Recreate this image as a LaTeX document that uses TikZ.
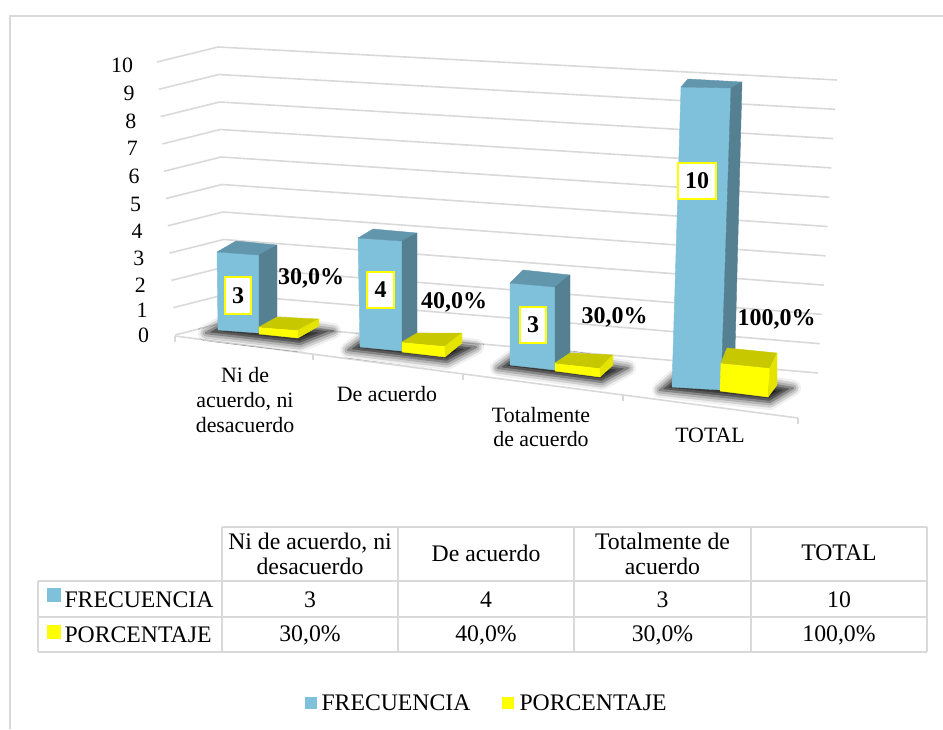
\documentclass[tikz,border=0pt]{standalone}
\usepackage{fontspec}
\setmainfont{Liberation Serif}
\usetikzlibrary{shadows.blur}

\definecolor{gridgray}{RGB}{217,217,217}
\definecolor{freqfront}{RGB}{127,192,218}
\definecolor{freqtop}{RGB}{98,150,172}
\definecolor{freqside}{RGB}{84,128,145}
\definecolor{porcfront}{RGB}{255,255,0}
\definecolor{porctop}{RGB}{200,200,0}
\definecolor{porcside}{RGB}{228,228,0}

\tikzset{every picture/.style={line width=0.75pt}}
\tikzset{
	gridline/.style={draw=gridgray, line width=1.2pt},
	tabline/.style={draw=gridgray, line width=1.5pt},
	basefont/.style={font=\fontsize{17.8}{18.8}\selectfont},
	axisfont/.style={font=\fontsize{16.4}{18.4}\selectfont},
	datalbl/.style={font=\fontsize{18}{20}\selectfont\bfseries},
	valbox/.style={draw=porcfront, line width=1.5pt, fill=white, inner xsep=5.4pt, minimum height=27.5pt, datalbl},
	legtext/.style={basefont, anchor=west, inner sep=0pt},
	face/.style={fill=#1, draw=#1, line width=0.3pt, line join=round},
	barshadow/.style={blur shadow={shadow xshift=0pt, shadow yshift=0pt, shadow blur radius=6pt, shadow opacity=95}}
}

\begin{document}
\begin{tikzpicture}[x=0.75pt,y=0.75pt,yscale=-1,xscale=1]
	\useasboundingbox (0,0) rectangle (943,729);

	%Shape: Frame
	\draw [tabline] (9.5,729) -- (9.5,15.5) -- (943,15.5) ;

	%Straight Lines: side wall and back wall, 10 down to 0
	\draw [gridline] (157,62) -- (218,47) -- (837,80) ;
	\draw [gridline] (158.8,89.3) -- (218.8,74.5) -- (835.1,109.3) ;
	\draw [gridline] (160.6,116.6) -- (219.6,102) -- (833.2,138.6) ;
	\draw [gridline] (162.4,143.9) -- (220.4,129.5) -- (831.3,167.9) ;
	\draw [gridline] (164.2,171.2) -- (221.2,157) -- (829.4,197.2) ;
	\draw [gridline] (166,198.5) -- (222,184.5) -- (827.5,226.5) ;
	\draw [gridline] (167.8,225.8) -- (222.8,212) -- (825.6,255.8) ;
	\draw [gridline] (169.6,253.1) -- (223.6,239.5) -- (823.7,285.1) ;
	\draw [gridline] (171.4,280.4) -- (224.4,267) -- (821.8,314.4) ;
	\draw [gridline] (173.2,307.7) -- (225.2,294.5) -- (819.9,343.7) ;
	\draw [gridline] (175,335) -- (226,322) -- (818,373) ;

	%Straight Lines: floor front edge and ticks
	\draw [gridline] (175,336) -- (798,418) ;
	\draw [gridline] (175,336) -- (175,342) ;
	\draw [gridline] (313,354) -- (313,360) ;
	\draw [gridline] (463,374) -- (463,380) ;
	\draw [gridline] (623,395) -- (623,401) ;
	\draw [gridline] (798,418) -- (798,424) ;

	% Text Node
	\draw (138,65) node (ax10) [axisfont, anchor=east] {10};
	\draw (139.6,93) node (ax9) [axisfont, anchor=east] {9};
	\draw (141.2,121) node (ax8) [axisfont, anchor=east] {8};
	\draw (142.8,148) node (ax7) [axisfont, anchor=east] {7};
	\draw (144.4,176) node (ax6) [axisfont, anchor=east] {6};
	\draw (146,204) node (ax5) [axisfont, anchor=east] {5};
	\draw (147.6,231) node (ax4) [axisfont, anchor=east] {4};
	\draw (149.2,258) node (ax3) [axisfont, anchor=east] {3};
	\draw (150.8,285) node (ax2) [axisfont, anchor=east] {2};
	\draw (152.4,310) node (ax1) [axisfont, anchor=east] {1};
	\draw (154,335) node (ax0) [axisfont, anchor=east] {0};

	%Shape: Shadows under the bars
	\path [barshadow] (206,333) -- (300,344) -- (333,331) -- (234,317) -- cycle ;
	\path [barshadow] (348,350) -- (447,362) -- (476,347) -- (371,333) -- cycle ;
	\path [barshadow] (498,368) -- (602,382) -- (628,368) -- (521,351) -- cycle ;
	\path [barshadow] (660,390) -- (770,402) -- (793,388) -- (684,369) -- cycle ;

	%Shape: Bar Ni de acuerdo, ni desacuerdo
	\draw [face=freqfront] (217,252) -- (259,255) -- (259,333) -- (218,330) -- cycle ;
	\draw [face=freqtop] (217,252) -- (236,241) -- (277,245) -- (259,255) -- cycle ;
	\draw [face=freqside] (259,255) -- (277,245) -- (277,322) -- (259,333) -- cycle ;
	\draw [face=porcfront] (259,327) -- (298,330) -- (298,338) -- (259,334) -- cycle ;
	\draw [face=porctop] (259,327) -- (277,317) -- (319,319) -- (298,330) -- cycle ;
	\draw [face=porcside] (298,330) -- (319,319) -- (319,326) -- (298,338) -- cycle ;

	%Shape: Bar De acuerdo
	\draw [face=freqfront] (358,238) -- (402,241) -- (402,351) -- (360,347) -- cycle ;
	\draw [face=freqtop] (358,238) -- (373,229) -- (417,233) -- (402,241) -- cycle ;
	\draw [face=freqside] (402,241) -- (417,233) -- (417,340) -- (402,351) -- cycle ;
	\draw [face=porcfront] (402,342) -- (445,346) -- (445,357) -- (402,352) -- cycle ;
	\draw [face=porctop] (402,342) -- (417,333) -- (462,333) -- (445,346) -- cycle ;
	\draw [face=porcside] (445,346) -- (462,333) -- (462,343) -- (445,357) -- cycle ;

	%Shape: Bar Totalmente de acuerdo
	\draw [face=freqfront] (510,283) -- (555,287) -- (555,370) -- (510,365) -- cycle ;
	\draw [face=freqtop] (510,283) -- (523,270) -- (570,275) -- (555,287) -- cycle ;
	\draw [face=freqside] (555,287) -- (570,275) -- (570,355) -- (555,370) -- cycle ;
	\draw [face=porcfront] (555,363) -- (600,368) -- (600,377) -- (555,371) -- cycle ;
	\draw [face=porctop] (555,363) -- (570,353) -- (613,355) -- (600,368) -- cycle ;
	\draw [face=porcside] (600,368) -- (613,355) -- (613,365) -- (600,377) -- cycle ;

	%Shape: Bar TOTAL
	\draw [face=freqfront] (681,87) -- (731,88) -- (721,390) -- (672,387) -- cycle ;
	\draw [face=freqtop] (681,87) -- (688,79) -- (742,82) -- (731,88) -- cycle ;
	\draw [face=freqside] (731,88) -- (742,82) -- (735,350) -- (721,390) -- cycle ;
	\draw [face=porcfront] (721,363) -- (770,368) -- (768,397) -- (720,391) -- cycle ;
	\draw [face=porctop] (721,363) -- (727,348) -- (777,353) -- (770,368) -- cycle ;
	\draw [face=porcside] (770,368) -- (777,353) -- (777,385) -- (768,397) -- cycle ;

	% Text Node
	\draw (238,295.5) node (valA) [valbox] {3};
	% Text Node
	\draw (380.5,290) node (valB) [valbox] {4};
	% Text Node
	\draw (533,325) node (valC) [valbox] {3};
	% Text Node
	\draw (697,181) node (valD) [valbox] {10};
	% Text Node
	\draw (311,278) node (pctA) [datalbl] {30,0\%};
	% Text Node
	\draw (454,302) node (pctB) [datalbl] {40,0\%};
	% Text Node
	\draw (614.5,317.5) node (pctC) [datalbl] {30,0\%};
	% Text Node
	\draw (776.5,319.5) node (pctD) [datalbl] {100,0\%};

	% Text Node
	\draw (245,400) node (catA) [axisfont, align=center] {Ni de\\acuerdo, ni\\desacuerdo};
	% Text Node
	\draw (387,394) node (catB) [axisfont] {De acuerdo};
	% Text Node
	\draw (541,427) node (catC) [axisfont, align=center] {Totalmente\\de acuerdo};
	% Text Node
	\draw (710,435) node (catD) [axisfont] {TOTAL};

	%Shape: Table
	\draw [tabline] (222,527) -- (927,527) ;
	\draw [tabline] (38,581) -- (927,581) ;
	\draw [tabline] (38,617) -- (927,617) ;
	\draw [tabline] (38,652) -- (927,652) ;
	\draw [tabline] (38,581) -- (38,652) ;
	\draw [tabline] (222,527) -- (222,652) ;
	\draw [tabline] (398,527) -- (398,652) ;
	\draw [tabline] (574,527) -- (574,652) ;
	\draw [tabline] (751,527) -- (751,652) ;
	\draw [tabline] (927,527) -- (927,652) ;

	% Text Node
	\draw (310,554) node (hdA) [basefont, align=center] {Ni de acuerdo, ni\\desacuerdo};
	% Text Node
	\draw (486,553) node (hdB) [basefont] {De acuerdo};
	% Text Node
	\draw (662.5,554) node (hdC) [basefont, align=center] {Totalmente de\\acuerdo};
	% Text Node
	\draw (839,553) node (hdD) [basefont] {TOTAL};

	%Shape: Legend keys in table
	\fill [freqfront] (47,588) rectangle (61,602) ;
	\fill [porcfront] (47,625) rectangle (61,639) ;
	% Text Node
	\draw (64,600) node (rowF) [legtext] {FRECUENCIA};
	% Text Node
	\draw (64,635) node (rowP) [legtext] {PORCENTAJE};

	% Text Node
	\draw (310,600) node (fA) [basefont] {3};
	\draw (486,600) node (fB) [basefont] {4};
	\draw (662.5,600) node (fC) [basefont] {3};
	\draw (839,600) node (fD) [basefont] {10};
	% Text Node
	\draw (310,635) node (pA) [basefont] {30,0\%};
	\draw (486,635) node (pB) [basefont] {40,0\%};
	\draw (662.5,635) node (pC) [basefont] {30,0\%};
	\draw (839,635) node (pD) [basefont] {100,0\%};

	%Shape: Legend
	\fill [freqfront] (305,697) rectangle (317,709) ;
	\fill [porcfront] (502,697) rectangle (514,709) ;
	% Text Node
	\draw (321,703) node (legF) [legtext] {FRECUENCIA};
	% Text Node
	\draw (519,703) node (legP) [legtext] {PORCENTAJE};

\end{tikzpicture}
\end{document}
